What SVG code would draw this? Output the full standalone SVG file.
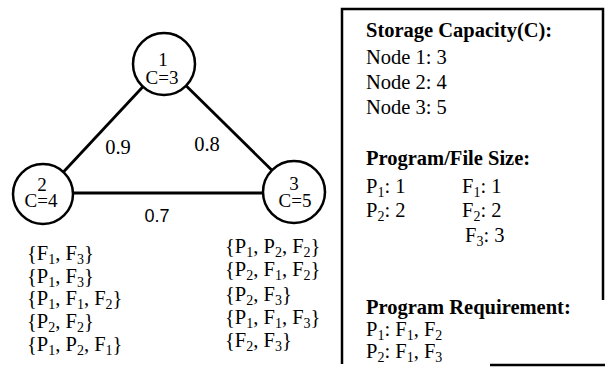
<svg xmlns="http://www.w3.org/2000/svg" width="608" height="367" viewBox="0 0 608 367">
<style>
.t{font-family:"Liberation Serif","Times New Roman",serif;font-size:20.5px;fill:#000}
.n{font-family:"Liberation Serif","Times New Roman",serif;font-size:19px;fill:#000;text-anchor:middle}
.b{font-weight:bold}
.s{font-family:"Liberation Sans",Arial,sans-serif;font-size:18px;fill:#000}
.node circle{fill:#fff;stroke:#000;stroke-width:2.5}
.edge{stroke:#000;stroke-width:2.8;fill:none}
.box{stroke:#000;stroke-width:2.5;fill:none}
tspan.u{font-size:14px}
</style>
<rect width="608" height="367" fill="#fff"/>
<g id="connectors">
<line class="edge" x1="142.9" y1="86.7" x2="63.4" y2="172"/>
<line class="edge" x1="186.1" y1="85.8" x2="271.9" y2="170.2"/>
<line class="edge" x1="73" y1="193" x2="263" y2="193"/>
<text class="t" x="118" y="154" text-anchor="middle">0.9</text>
<text class="t" x="207" y="151" text-anchor="middle">0.8</text>
<text class="s" x="157" y="222" text-anchor="middle">0.7</text>
</g>
<g id="node1" class="node">
<circle cx="164" cy="64" r="31"/>
<text class="n" x="163" y="66">1</text>
<text class="n" x="162" y="84">C=3</text>
</g>
<g id="node2" class="node">
<circle cx="43" cy="194" r="30"/>
<text class="n" x="42" y="191">2</text>
<text class="n" x="41" y="207">C=4</text>
</g>
<g id="node3" class="node">
<circle cx="294" cy="192" r="31"/>
<text class="n" x="294" y="190">3</text>
<text class="n" x="295" y="207">C=5</text>
</g>
<g id="sets2">
<text class="t" x="27" y="260">{F<tspan class="u" dy="4">1</tspan><tspan dy="-4">, F</tspan><tspan class="u" dy="4">3</tspan><tspan dy="-4">}</tspan></text>
<text class="t" x="27" y="283">{P<tspan class="u" dy="4">1</tspan><tspan dy="-4">, F</tspan><tspan class="u" dy="4">3</tspan><tspan dy="-4">}</tspan></text>
<text class="t" x="27" y="305">{P<tspan class="u" dy="4">1</tspan><tspan dy="-4">, F</tspan><tspan class="u" dy="4">1</tspan><tspan dy="-4">, F</tspan><tspan class="u" dy="4">2</tspan><tspan dy="-4">}</tspan></text>
<text class="t" x="27" y="328">{P<tspan class="u" dy="4">2</tspan><tspan dy="-4">, F</tspan><tspan class="u" dy="4">2</tspan><tspan dy="-4">}</tspan></text>
<text class="t" x="27" y="351">{P<tspan class="u" dy="4">1</tspan><tspan dy="-4">, P</tspan><tspan class="u" dy="4">2</tspan><tspan dy="-4">, F</tspan><tspan class="u" dy="4">1</tspan><tspan dy="-4">}</tspan></text>
</g>
<g id="sets3">
<text class="t" x="225" y="253">{P<tspan class="u" dy="4">1</tspan><tspan dy="-4">, P</tspan><tspan class="u" dy="4">2</tspan><tspan dy="-4">, F</tspan><tspan class="u" dy="4">2</tspan><tspan dy="-4">}</tspan></text>
<text class="t" x="225" y="276">{P<tspan class="u" dy="4">2</tspan><tspan dy="-4">, F</tspan><tspan class="u" dy="4">1</tspan><tspan dy="-4">, F</tspan><tspan class="u" dy="4">2</tspan><tspan dy="-4">}</tspan></text>
<text class="t" x="225" y="301">{P<tspan class="u" dy="4">2</tspan><tspan dy="-4">, F</tspan><tspan class="u" dy="4">3</tspan><tspan dy="-4">}</tspan></text>
<text class="t" x="225" y="324">{P<tspan class="u" dy="4">1</tspan><tspan dy="-4">, F</tspan><tspan class="u" dy="4">1</tspan><tspan dy="-4">, F</tspan><tspan class="u" dy="4">3</tspan><tspan dy="-4">}</tspan></text>
<text class="t" x="225" y="347">{F<tspan class="u" dy="4">2</tspan><tspan dy="-4">, F</tspan><tspan class="u" dy="4">3</tspan><tspan dy="-4">}</tspan></text>
</g>
<g id="legend">
<path class="box" d="M603 300 V9 H342 V364"/>
<line class="box" x1="490" y1="365" x2="605" y2="365"/>
<text class="t b" x="366" y="37">Storage Capacity(C):</text>
<text class="t" x="366" y="64">Node 1: 3</text>
<text class="t" x="366" y="89">Node 2: 4</text>
<text class="t" x="366" y="114">Node 3: 5</text>
<text class="t b" x="366" y="165">Program/File Size:</text>
<text class="t" x="366" y="193">P<tspan class="u" dy="4">1</tspan><tspan dy="-4">: 1</tspan></text>
<text class="t" x="462" y="193">F<tspan class="u" dy="4">1</tspan><tspan dy="-4">: 1</tspan></text>
<text class="t" x="366" y="217">P<tspan class="u" dy="4">2</tspan><tspan dy="-4">: 2</tspan></text>
<text class="t" x="462" y="217">F<tspan class="u" dy="4">2</tspan><tspan dy="-4">: 2</tspan></text>
<text class="t" x="465" y="242">F<tspan class="u" dy="4">3</tspan><tspan dy="-4">: 3</tspan></text>
<text class="t b" x="366" y="314">Program Requirement:</text>
<text class="t" x="366" y="336">P<tspan class="u" dy="4">1</tspan><tspan dy="-4">: F</tspan><tspan class="u" dy="4">1</tspan><tspan dy="-4">, F</tspan><tspan class="u" dy="4">2</tspan></text>
<text class="t" x="366" y="358">P<tspan class="u" dy="4">2</tspan><tspan dy="-4">: F</tspan><tspan class="u" dy="4">1</tspan><tspan dy="-4">, F</tspan><tspan class="u" dy="4">3</tspan></text>
</g>
</svg>
